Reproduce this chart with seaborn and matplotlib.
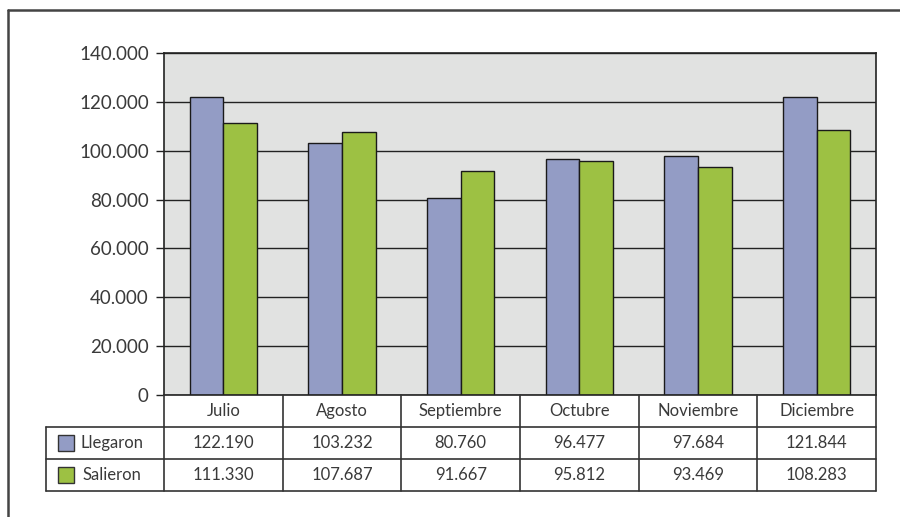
import pandas as pd
import numpy as np
import matplotlib.pyplot as plt
import seaborn as sns

# datos del cuadro
meses = ['Julio', 'Agosto', 'Septiembre', 'Octubre', 'Noviembre', 'Diciembre']
llegaron = [122190, 103232, 80760, 96477, 97684, 121844]
salieron = [111330, 107687, 91667, 95812, 93469, 108283]
series = ['Llegaron', 'Salieron']
colores = ['#939cc5', '#9dc143']
yticks = [0, 20000, 40000, 60000, 80000, 100000, 120000, 140000]

df = pd.DataFrame({
    'mes': meses * 2,
    'serie': ['Llegaron'] * len(meses) + ['Salieron'] * len(meses),
    'valor': llegaron + salieron,
})


def miles(v):
    return '{:,.0f}'.format(v).replace(',', '.')


sns.set_style('ticks')
plt.rcParams['font.family'] = ['Lato', 'DejaVu Sans']
texto = '#3a3a3a'

fig = plt.figure(figsize=(9, 5.17), dpi=100)

# pixel layout
W, H = 900, 517
x0, x1 = 164, 876
y_top, y_bot = 53, 395
ax = fig.add_axes([x0 / W, 1 - y_bot / H, (x1 - x0) / W, (y_bot - y_top) / H])

sns.barplot(data=df, x='mes', y='valor', hue='serie', palette=colores,
            edgecolor='#1a1a1a', linewidth=1, width=0.565, saturation=1,
            legend=False, ax=ax)

ax.set_facecolor('#e1e2e1')
ax.set_xlim(-0.5, len(meses) - 0.5)
ax.set_ylim(0, 140000)
ax.set_yticks(yticks)
ax.set_yticklabels([miles(v) for v in yticks], fontsize=13.5, color=texto)
ax.tick_params(axis='y', length=6, width=1, color='#222222', pad=5)
ax.tick_params(axis='x', length=0, labelbottom=False)
ax.set_axisbelow(True)
ax.yaxis.grid(True, color='#222222', linewidth=1)
for s in ['left', 'right', 'top', 'bottom']:
    ax.spines[s].set_visible(True)
    ax.spines[s].set_color('#222222')
    ax.spines[s].set_linewidth(1.2)
ax.set_xlabel('')
ax.set_ylabel('')

# tabla de datos debajo del grafico (coordenadas en pixeles)
tab = fig.add_axes([0, 0, 1, 1], facecolor='none')
tab.set_xlim(0, W)
tab.set_ylim(H, 0)
tab.axis('off')

lc = '#333333'
cw = (x1 - x0) / len(meses)
rows = [395, 427, 459, 491]
lx = 46

# marco exterior
tab.plot([8, W], [10, 10], color='#444444', lw=1.8)
tab.plot([8, 8], [10, H], color='#444444', lw=1.8)

for r in rows[1:]:
    tab.plot([lx, x1], [r, r], color=lc, lw=1.2)
for i in range(len(meses) + 1):
    xc = x0 + i * cw
    tab.plot([xc, xc], [rows[0], rows[-1]], color=lc, lw=1.2)
tab.plot([lx, lx], [rows[1], rows[-1]], color=lc, lw=1.2)

for i, m in enumerate(meses):
    cx = x0 + (i + 0.5) * cw
    tab.text(cx, (rows[0] + rows[1]) / 2, m, ha='center', va='center',
             fontsize=12, color=texto)
    tab.text(cx, (rows[1] + rows[2]) / 2, miles(llegaron[i]), ha='center',
             va='center', fontsize=12, color=texto)
    tab.text(cx, (rows[2] + rows[3]) / 2, miles(salieron[i]), ha='center',
             va='center', fontsize=12, color=texto)

for j, (nombre, col) in enumerate(zip(series, colores)):
    cy = (rows[j + 1] + rows[j + 2]) / 2
    tab.add_patch(plt.Rectangle((58, cy - 8), 16, 16, facecolor=col,
                                edgecolor='#333333', lw=1))
    tab.text(112, cy, nombre, ha='center', va='center', fontsize=12,
             color=texto)

plt.savefig('out.png', dpi=100)
